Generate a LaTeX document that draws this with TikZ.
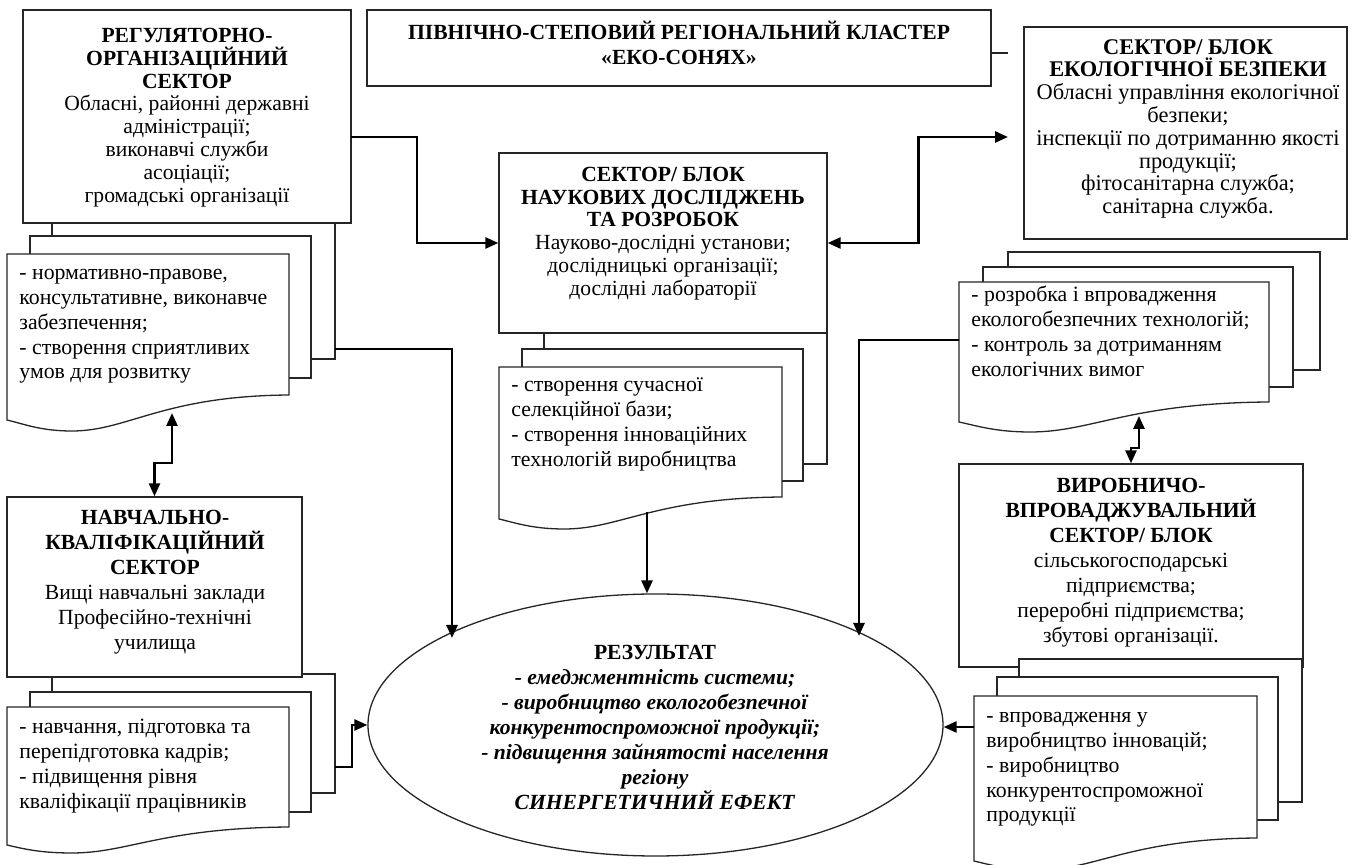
\documentclass[tikz,border=0pt]{standalone}
\usepackage{fontspec}
\setmainfont{Liberation Serif}
\usetikzlibrary{arrows.meta,shapes.geometric,calc}

\newcommand\docfront[6]{%
  \pgfmathsetmacro\dfW{#3-#1}%
  \pgfmathsetmacro\dfM{#1+0.23*\dfW}%
  \draw[page] (#1,#2) -- (#3,#2) -- (#3,#4)
    .. controls ({#3-0.45*\dfW},{#4+1}) and ({\dfM+0.2*\dfW},#6) .. (\dfM,#6)
    .. controls ({#1+0.12*\dfW},#6) and ({#1+0.06*\dfW},{#5+4}) .. (#1,#5) -- cycle;}

\begin{document}
\begin{tikzpicture}[x=0.5pt,y=-0.5pt,
  box/.style={draw=black!85, line width=0.65pt, fill=white, inner sep=0pt, rectangle},
  page/.style={draw=black!85, line width=0.65pt, fill=white},
  link/.style={line width=1.3pt, -{Triangle[length=6.5pt,width=5.5pt]}},
  twoway/.style={line width=1.3pt, {Triangle[length=6.5pt,width=5.5pt]}-{Triangle[length=6.5pt,width=5.5pt]}},
  stub/.style={line width=0.65pt, draw=black!85},
  boxtxt/.style={align=center, inner sep=0pt, font=\fontsize{10.8}{11.4}\selectfont},
  ecotxt/.style={align=center, inner sep=0pt, font=\fontsize{11.2}{11.4}\selectfont},
  boxtxtw/.style={align=center, inner sep=0pt, font=\fontsize{10.8}{12.5}\selectfont},
  doctxt/.style={align=left, inner sep=0pt, anchor=north west, font=\fontsize{10.9}{12.4}\selectfont},
]
\fill[white] (0,0) rectangle (1357,865);
\useasboundingbox (0,0) rectangle (1357,865);

% ---------- regulatory sector documents ----------
\draw[page] (52,218) rectangle (335,359);
\draw[page] (30,236) rectangle (311,378);
\docfront{7}{254}{289}{395}{420}{431}
\node[doctxt] (regdoc) at (19,262) {\strut- нормативно-правове,\\консультативне, виконавче\\забезпечення;\\- створення сприятливих\\умов для розвитку};
\node[box, minimum width=164pt, minimum height=106.5pt] (reg) at (187,116.5) {};
\node[boxtxt] (regtxt) at (187,117.5) {\textbf{РЕГУЛЯТОРНО-}\\\textbf{ОРГАНІЗАЦІЙНИЙ}\\\textbf{СЕКТОР}\\Обласні, районні державні\\адміністрації;\\виконавчі служби\\асоціації;\\громадські організації};

% ---------- cluster title ----------
\node[box, minimum width=312pt, minimum height=38pt] (cluster) at (679,48) {};
\node[boxtxtw] (clustertxt) at (679,42.5) {\textbf{ПІВНІЧНО-СТЕПОВИЙ РЕГІОНАЛЬНИЙ КЛАСТЕР}\\\textbf{«ЕКО-СОНЯХ»}};

% ---------- science sector ----------
\draw[page] (544,331) rectangle (827,464);
\draw[page] (522,349) rectangle (803,481);
\docfront{499}{367}{782}{497}{519}{529}
\node[doctxt] (scidoc) at (511,374) {\strut- створення сучасної\\селекційної бази;\\- створення інноваційних\\технологій виробництва};
\node[box, minimum width=164pt, minimum height=90pt] (sci) at (663,243) {};
\node[boxtxt] (scitxt) at (663,233.5) {\textbf{СЕКТОР/ БЛОК}\\\textbf{НАУКОВИХ ДОСЛІДЖЕНЬ}\\\textbf{ТА РОЗРОБОК}\\Науково-дослідні установи;\\дослідницькі організації;\\дослідні лабораторії};

% ---------- ecology sector ----------
\draw[page] (1008,252) rectangle (1320,370);
\draw[page] (983,267) rectangle (1293,387);
\docfront{959}{282}{1269}{402}{422}{432}
\node[doctxt] (ecodoc) at (971,284) {\strut- розробка і впровадження\\екологобезпечних технологій;\\- контроль за дотриманням\\екологічних вимог};
\node[box, minimum width=161.5pt, minimum height=106pt] (eco) at (1185.5,133) {};
\node[ecotxt] (ecotxt) at (1188,129) {\textbf{СЕКТОР/ БЛОК}\\\textbf{ЕКОЛОГІЧНОЇ БЕЗПЕКИ}\\Обласні управління екологічної\\безпеки;\\інспекції по дотриманню якості\\продукції;\\фітосанітарна служба;\\санітарна служба.};

% ---------- education sector ----------
\draw[page] (52,674) rectangle (335,793);
\draw[page] (30,692) rectangle (311,812);
\docfront{7}{707}{289}{827}{845}{853}
\node[doctxt] (navdoc) at (19,716) {\strut- навчання, підготовка та\\перепідготовка кадрів;\\- підвищення рівня\\кваліфікації працівників};
\node[box, minimum width=147.5pt, minimum height=90pt] (navch) at (154.5,587) {};
\node[boxtxtw] (navchtxt) at (155,582.5) {\textbf{НАВЧАЛЬНО-}\\\textbf{КВАЛІФІКАЦІЙНИЙ}\\\textbf{СЕКТОР}\\Вищі навчальні заклади\\Професійно-технічні\\училища};

% ---------- production sector ----------
\node[box, minimum width=172pt, minimum height=101.5pt] (prod) at (1131,565.5) {};
\node[boxtxtw] (prodtxt) at (1131,562.5) {\textbf{ВИРОБНИЧО-}\\\textbf{ВПРОВАДЖУВАЛЬНИЙ}\\\textbf{СЕКТОР/ БЛОК}\\сільськогосподарські\\підприємства;\\переробні підприємства;\\збутові організації.};
\draw[page] (1019,659) rectangle (1302,802);
\draw[page] (997,677) rectangle (1278,820);
\docfront{974}{696}{1257}{838}{861}{870}
\node[doctxt] (proddoc) at (986,705) {\strut- впровадження у\\виробництво інновацій;\\- виробництво\\конкурентоспроможної\\продукції};

% ---------- result ----------
\node[ellipse, draw=black!85, line width=0.65pt, fill=white, inner sep=0pt,
      minimum width=287.5pt, minimum height=131pt] (res) at (655.5,725) {};
\node[boxtxtw] (restxt) at (655,727) {\textbf{РЕЗУЛЬТАТ}\\\textbf{\textit{- емеджментність системи;}}\\\textbf{\textit{- виробництво екологобезпечної}}\\\textbf{\textit{конкурентоспроможної продукції;}}\\\textbf{\textit{- підвищення зайнятості населення}}\\\textbf{\textit{регіону}}\\\textbf{\textit{СИНЕРГЕТИЧНИЙ ЕФЕКТ}}};

% ---------- connection points ----------
\coordinate (regout) at (351,137);
\coordinate (ecoin) at (1008,137);
\coordinate (clusterout) at (991,53);
\coordinate (regdocR) at (335,349);
\coordinate (resA) at (452,638);
\coordinate (regwave) at (172,413);
\coordinate (sciwave) at (647,512);
\coordinate (ecodocL) at (959,340);
\coordinate (resB) at (859,636);
\coordinate (ecowave) at (1139,416);
\coordinate (navdocR) at (335,767);
\coordinate (proddocL) at (974,727);

% ---------- connectors ----------
\draw[link] (regout) -- ++(66,0) |- (sci.west);
\draw[twoway] (sci.east) -- ++(91,0) |- (ecoin);
\draw[stub] (clusterout) -- (ecoin |- clusterout);
\draw[link] (regdocR) -| (resA);
\draw[twoway] (regwave) -- (172,463) -| (navch.north);
\draw[link] (sciwave) -- (sciwave |- res.north);
\draw[link] (ecodocL) -| (resB);
\draw[twoway] (ecowave) -- (1139,448) -| (prod.north);
\draw[link] (navdocR) -- (352,767) |- (res.west);
\draw[link] (proddocL) -- (proddocL -| res.east);
\end{tikzpicture}
\end{document}
